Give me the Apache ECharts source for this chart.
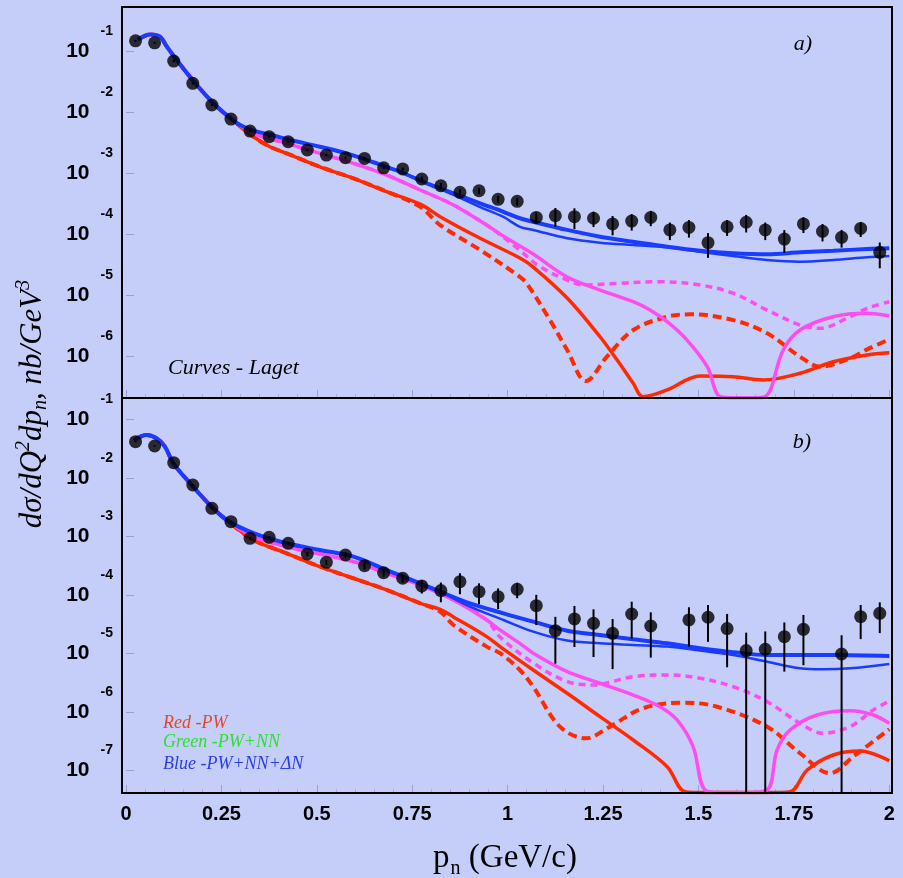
<!DOCTYPE html>
<html><head><meta charset="utf-8">
<script src="https://cdn.jsdelivr.net/npm/echarts@6/dist/echarts.min.js"></script>
<style>html,body{margin:0;padding:0;background:#c5cdf9;}#c{width:903px;height:878px;}</style>
</head><body><div id="c"></div>
<script>
// ---------- data: panel a ----------
const pA = [0.025,0.075,0.125,0.175,0.225,0.275,0.325,0.375,0.425,0.475,0.525,0.575,0.625,0.675,0.725,0.775,0.825,0.875,0.925,0.975,1.025,1.075,1.125,1.175,1.225,1.275,1.325,1.375,1.425,1.475,1.525,1.575,1.625,1.675,1.725,1.775,1.825,1.875,1.925,1.975];
const yA = [0.150,0.139,0.0698,0.0301,0.0133,0.00781,0.00497,0.00401,0.00332,0.00243,0.00201,0.00182,0.00177,0.00124,0.00119,8.13e-4,6.31e-4,4.92e-4,5.22e-4,3.78e-4,3.50e-4,1.91e-4,2.03e-4,1.96e-4,1.85e-4,1.49e-4,1.66e-4,1.91e-4,1.19e-4,1.31e-4,7.35e-5,1.34e-4,1.59e-4,1.19e-4,8.43e-5,1.49e-4,1.13e-4,9.0e-5,1.26e-4,5.10e-5];
const eA = [0.005,0.005,0.003,0.0012,0.0005,0.0003,0.0002,0.00015,0.00012,9e-5,8e-5,7e-5,7e-5,6e-5,6e-5,8e-5,7e-5,6e-5,6e-5,5e-5,5e-5,4.0e-5,6.9e-5,7.3e-5,5.2e-5,5.2e-5,5.0e-5,5.4e-5,3.8e-5,4.2e-5,3.2e-5,3.9e-5,5.1e-5,3.8e-5,3.4e-5,4.3e-5,3.6e-5,2.9e-5,3.5e-5,2.3e-5];

const headA = [[0.032,0.158],[0.063,0.191],[0.089,0.175],[0.107,0.120],[0.133,0.0724],[0.181,0.0305],[0.231,0.0138],[0.273,0.00813]];
const blueMidA = [[0.299,0.00624],[0.334,0.00504],[0.382,0.00428],[0.430,0.00354],[0.508,0.00275],[0.578,0.00214],[0.648,0.00153],[0.718,0.00107],[0.788,6.90e-4]];
const blueThickTailA = [[0.858,4.73e-4],[0.928,3.24e-4],[0.989,2.36e-4],[1.032,1.85e-4],[1.067,1.62e-4],[1.156,1.19e-4],[1.242,9.20e-5],[1.329,7.62e-5],[1.418,6.31e-5],[1.504,5.42e-5],[1.591,4.92e-5],[1.680,4.73e-5],[1.766,5.10e-5],[1.853,5.42e-5],[1.942,5.78e-5],[2.0,5.94e-5]];
const blueThinTailA = [[0.858,4.45e-4],[0.928,2.82e-4],[0.989,1.94e-4],[1.032,1.34e-4],[1.067,1.19e-4],[1.156,8.67e-5],[1.242,7.35e-5],[1.329,6.73e-5],[1.418,6.17e-5],[1.504,5.22e-5],[1.591,4.45e-5],[1.680,3.82e-5],[1.766,3.58e-5],[1.853,3.82e-5],[1.942,4.23e-5],[2.0,4.45e-5]];
const magMidA = [[0.334,0.00456],[0.421,0.00313],[0.508,0.00214],[0.596,0.00147],[0.683,9.44e-4],[0.771,5.37e-4],[0.858,3.05e-4],[0.945,1.43e-4]];
const magSolidTailA = [[0.980,1.02e-4],[1.032,6.47e-5],[1.067,4.79e-5],[1.156,2.01e-5],[1.242,1.23e-5],[1.329,7.91e-6],[1.373,5.78e-6],[1.418,3.72e-6],[1.470,1.86e-6],[1.523,6.81e-7],[1.557,2.2e-7],[1.60,2.1e-7],[1.64,2.1e-7],[1.675,2.2e-7],[1.722,1.28e-6],[1.766,2.72e-6],[1.853,4.49e-6],[1.942,5.10e-6],[2.0,4.61e-6]];
const magDashTailA = [[0.980,1.0e-4],[1.032,5.5e-5],[1.085,2.96e-5],[1.156,1.79e-5],[1.198,1.49e-5],[1.287,1.58e-5],[1.399,1.68e-5],[1.504,1.49e-5],[1.591,1.09e-5],[1.680,5.78e-6],[1.766,3.28e-6],[1.819,2.90e-6],[1.897,4.49e-6],[1.942,6.17e-6],[2.0,7.91e-6]];
const redMidA = [[0.334,0.00401],[0.377,0.00275],[0.421,0.00214],[0.508,0.00129],[0.596,8.34e-4],[0.683,5.04e-4]];
const redSolidTailA = [[0.771,3.15e-4],[0.823,1.96e-4],[0.928,8.67e-5],[1.032,4.12e-5],[1.067,2.93e-5],[1.156,9.09e-6],[1.242,2.11e-6],[1.287,8.77e-7],[1.329,3.64e-7],[1.355,2.19e-7],[1.418,2.83e-7],[1.504,4.79e-7],[1.591,4.67e-7],[1.669,4.12e-7],[1.766,5.31e-7],[1.853,8.22e-7],[1.942,1.06e-6],[2.0,1.15e-6]];
const redDashTailA = [[0.771,2.85e-4],[0.823,1.43e-4],[0.928,5.57e-5],[1.032,2.03e-5],[1.051,1.55e-5],[1.111,3.96e-6],[1.156,1.28e-6],[1.205,3.96e-7],[1.260,9.93e-7],[1.329,2.72e-6],[1.418,4.49e-6],[1.478,4.92e-6],[1.591,3.96e-6],[1.680,2.40e-6],[1.766,9.93e-7],[1.819,6.81e-7],[1.897,9.33e-7],[1.942,1.31e-6],[2.0,1.91e-6]];

// ---------- data: panel b ----------
const pB = [0.025,0.075,0.125,0.175,0.225,0.275,0.325,0.375,0.425,0.475,0.525,0.575,0.625,0.675,0.725,0.775,0.825,0.875,0.925,0.975,1.025,1.075,1.125,1.175,1.225,1.275,1.325,1.375,1.475,1.525,1.575,1.625,1.675,1.725,1.775,1.875,1.925,1.975];
const yB = [0.0418,0.0352,0.0183,0.00759,0.00303,0.00179,9.31e-4,9.68e-4,7.65e-4,5.02e-4,3.62e-4,4.83e-4,3.17e-4,2.41e-4,1.93e-4,1.43e-4,1.19e-4,1.69e-4,1.14e-4,9.35e-5,1.25e-4,6.56e-5,2.45e-5,3.89e-5,3.28e-5,2.21e-5,4.73e-5,2.95e-5,3.74e-5,4.16e-5,2.66e-5,1.12e-5,1.18e-5,1.94e-5,2.59e-5,9.8e-6,4.25e-5,4.86e-5];
const eB = [0.001,0.001,0.0006,0.0003,0.0001,6e-5,4e-5,4e-5,4e-5,4e-5,3.5e-5,6e-5,4.5e-5,3.5e-5,3e-5,3.7e-5,4.4e-5,6.6e-5,4.4e-5,3.6e-5,3.7e-5,3.5e-5,1.78e-5,2.6e-5,2.41e-5,1.67e-5,2.94e-5,2.1e-5,2.43e-5,2.58e-5,2.08e-5,1.15e-5,1.2e-5,1.45e-5,1.96e-5,1.07e-5,2.49e-5,2.63e-5];

const headB = [[0.021,0.0447],[0.054,0.0543],[0.080,0.0477],[0.102,0.0343],[0.124,0.0178],[0.172,0.00759],[0.220,0.00345],[0.264,0.00191]];
const blueMidB = [[0.334,0.00114],[0.421,7.66e-4],[0.508,5.88e-4],[0.596,4.52e-4],[0.683,2.67e-4],[0.771,1.58e-4],[0.823,1.14e-4]];
const blueThickTailB = [[0.901,7.21e-5],[0.989,4.86e-5],[1.067,3.50e-5],[1.156,2.45e-5],[1.242,2.07e-5],[1.329,1.75e-5],[1.418,1.49e-5],[1.504,1.23e-5],[1.591,1.05e-5],[1.680,9.42e-6],[1.766,9.42e-6],[1.853,9.42e-6],[2.0,9.06e-6]];
const blueThinTailB = [[0.901,6.31e-5],[0.989,3.74e-5],[1.067,2.36e-5],[1.156,1.66e-5],[1.242,1.49e-5],[1.329,1.40e-5],[1.418,1.31e-5],[1.504,1.12e-5],[1.591,9.42e-6],[1.680,7.24e-6],[1.766,5.58e-6],[1.826,5.37e-6],[1.897,5.58e-6],[2.0,6.62e-6]];
const magMidB = [[0.334,9.93e-4],[0.421,6.70e-4],[0.508,5.02e-4],[0.596,3.71e-4],[0.683,2.35e-4],[0.771,1.48e-4],[0.858,8.22e-5],[0.945,3.74e-5]];
const magSolidTailB = [[0.980,2.52e-5],[1.032,1.49e-5],[1.067,1.01e-5],[1.156,4.89e-6],[1.242,3.10e-6],[1.329,1.95e-6],[1.399,1.23e-6],[1.444,7.30e-7],[1.486,2.55e-7],[1.517,4.65e-8],[1.56,4.2e-8],[1.62,4.2e-8],[1.680,4.65e-8],[1.706,2.24e-7],[1.740,4.92e-7],[1.811,8.89e-7],[1.897,1.05e-6],[1.958,8.89e-7],[2.0,6.41e-7]];
const magDashTailB = [[0.980,1.91e-5],[1.067,6.89e-6],[1.156,3.30e-6],[1.224,2.90e-6],[1.329,4.01e-6],[1.418,4.29e-6],[1.504,3.77e-6],[1.591,2.70e-6],[1.680,1.50e-6],[1.766,6.41e-7],[1.826,4.33e-7],[1.897,5.61e-7],[1.958,1.08e-6],[2.0,1.54e-6]];
const redMidB = [[0.334,8.71e-4],[0.421,5.16e-4],[0.508,3.05e-4],[0.596,1.93e-4],[0.683,1.22e-4],[0.771,7.21e-5]];
const redSolidTailB = [[0.823,5.7e-5],[0.858,4.21e-5],[0.945,1.94e-5],[0.980,1.31e-5],[1.067,5.22e-6],[1.156,2.09e-6],[1.242,8.32e-7],[1.329,3.32e-7],[1.418,1.16e-7],[1.465,4.35e-8],[1.52,4.2e-8],[1.60,4.2e-8],[1.68,4.2e-8],[1.740,4.35e-8],[1.785,1.02e-7],[1.853,1.84e-7],[1.924,2.15e-7],[2.0,1.47e-7]];
const redDashTailB = [[0.823,5.2e-5],[0.858,3.07e-5],[0.945,1.31e-5],[0.980,1.01e-5],[1.032,5.22e-6],[1.067,2.70e-6],[1.137,5.61e-7],[1.205,3.55e-7],[1.268,5.61e-7],[1.355,1.16e-6],[1.460,1.44e-6],[1.549,1.23e-6],[1.680,5.61e-7],[1.766,1.97e-7],[1.845,8.95e-8],[1.905,1.72e-7],[2.0,5.06e-7]];

// axis ranges
const yMinA = 2.09e-7, yMaxA = 0.537;
const yMinB = 4.12e-8, yMaxB = 0.224;
const xTicks = ['0','0.25','0.5','0.75','1','1.25','1.5','1.75','2'];

// ---------- build ----------
const RED = '#ff2a00', MAG = '#ff4cf0', BLUE = '#1a3cff';
const chart = echarts.init(document.getElementById('c'));

function lineS(gi, data, color, w, type, z) {
  return {type:'line', xAxisIndex:gi, yAxisIndex:gi, data:data, showSymbol:false, symbol:'none',
    smooth:0.35, animation:false, z:z, lineStyle:{color:color, width:w, type:type}, emphasis:{disabled:true}};
}
function errS(gi, xs, ys, es, ymin) {
  return {type:'custom', xAxisIndex:gi, yAxisIndex:gi, animation:false, z:5,
    data: xs.map((p,i)=>[p, ys[i], es[i]]),
    renderItem: function(params, api){
      const x = api.value(0), v = api.value(1), e = api.value(2);
      const lo = Math.max(v - e, ymin);
      const a = api.coord([x, v + e]), b = api.coord([x, lo]);
      return {type:'line', shape:{x1:a[0], y1:a[1], x2:b[0], y2:b[1]}, style:{stroke:'#000', lineWidth:2}};
    }};
}
function ptS(gi, xs, ys) {
  return {type:'scatter', xAxisIndex:gi, yAxisIndex:gi, animation:false, z:6, symbol:'circle', symbolSize:13,
    itemStyle:{color:'#000'}, data: xs.map((p,i)=>[p, ys[i]])};
}
function yLab(v) {
  const e = Math.log10(v), r = Math.round(e);
  if (Math.abs(e - r) > 1e-6) return '';
  return '{b|10}{e|' + r + '}';
}
const labRich = {
  b:{fontSize:21, fontWeight:'bold', fontFamily:'Liberation Sans', color:'#000', lineHeight:22, verticalAlign:'middle'},
  e:{fontSize:14, fontWeight:'bold', fontFamily:'Liberation Sans', color:'#000', lineHeight:14, padding:[0,0,40,11], verticalAlign:'middle'}
};
function yAx(gi, min, max) {
  return {type:'log', logBase:10, gridIndex:gi, min:min, max:max, offset:4,
    axisLine:{show:false}, splitLine:{show:false},
    axisTick:{show:true, inside:true, length:8, lineStyle:{color:'#98a0d6', width:1}},
    axisLabel:{margin:9, formatter:yLab, rich:labRich, showMinLabel:false, showMaxLabel:false}};
}
function xAx(gi, showLab) {
  return {type:'value', gridIndex:gi, min:0, max:2, interval:0.25,
    axisLine:{show:false}, splitLine:{show:false},
    axisTick:{show:true, inside:true, length:8, lineStyle:{color:'#98a0d6'}},
    minorTick:{show:true, splitNumber:5, length:4, lineStyle:{color:'#a8b0de'}},
    axisLabel:{show:showLab, margin:11, fontSize:20, fontWeight:'bold', fontFamily:'Liberation Sans', color:'#000',
      formatter:(v)=>{ const i = Math.round(v/0.25); return xTicks[i] !== undefined ? xTicks[i] : ''; }}};
}

const txt = (x, y, text, size, color, align) => ({type:'text', x:x, y:y, z:200, silent:true,
  style:{text:text, fill:color, font:'italic ' + size + 'px "Liberation Serif"', align:align, verticalAlign:'middle',
    textAlign:align, textVerticalAlign:'middle'}});

const option = {
  backgroundColor:'#c5cdf9',
  animation:false,
  grid:[
    {left:126, top:7, width:763.3, height:391, containLabel:false, outerBoundsMode:'none'},
    {left:126, top:399, width:763.3, height:394, containLabel:false, outerBoundsMode:'none'}
  ],
  xAxis:[xAx(0,false), xAx(1,true)],
  yAxis:[yAx(0,yMinA,yMaxA), yAx(1,yMinB,yMaxB)],
  series:[
    lineS(0, headA.concat(redMidA, redSolidTailA), RED, 3.5, 'solid', 2),
    lineS(0, headA.concat(redMidA, redDashTailA), RED, 4, [9,5], 2),
    lineS(0, headA.concat(magMidA, magSolidTailA), MAG, 3.5, 'solid', 3),
    lineS(0, headA.concat(magMidA, magDashTailA), MAG, 3.5, [7,5], 3),
    lineS(0, headA.concat(blueMidA, blueThinTailA), BLUE, 2.5, 'solid', 4),
    lineS(0, headA.concat(blueMidA, blueThickTailA), BLUE, 4, 'solid', 4),
    errS(0, pA, yA, eA, yMinA),
    ptS(0, pA, yA),
    lineS(1, headB.concat(redMidB, redSolidTailB), RED, 3.5, 'solid', 2),
    lineS(1, headB.concat(redMidB, redDashTailB), RED, 4, [9,5], 2),
    lineS(1, headB.concat(magMidB, magSolidTailB), MAG, 3.5, 'solid', 3),
    lineS(1, headB.concat(magMidB, magDashTailB), MAG, 3.5, [7,5], 3),
    lineS(1, headB.concat(blueMidB, blueThinTailB), BLUE, 2.5, 'solid', 4),
    lineS(1, headB.concat(blueMidB, blueThickTailB), BLUE, 4, 'solid', 4),
    errS(1, pB, yB, eB, yMinB),
    ptS(1, pB, yB)
  ],
  graphic:[
    {type:'rect', z:150, silent:true, shape:{x:122, y:7, width:770, height:391}, style:{fill:null, stroke:'#000', lineWidth:2}},
    {type:'rect', z:150, silent:true, shape:{x:122, y:398, width:770, height:395}, style:{fill:null, stroke:'#000', lineWidth:2}},
    txt(803, 44, 'a)', 22, '#000', 'center'),
    txt(802, 442, 'b)', 22, '#000', 'center'),
    txt(168, 368, 'Curves - Laget', 22, '#000', 'left'),
    txt(163, 723, 'Red -PW', 18, '#e8452c', 'left'),
    txt(163, 742, 'Green -PW+NN', 18, '#2ee02e', 'left'),
    txt(163, 764, 'Blue -PW+NN+\u0394N', 18, '#2a40e6', 'left'),
    {type:'text', x:33, y:404, rotation:Math.PI/2, z:200, silent:true,
      style:{text:'{i|d\u03c3/dQ}{sup|2}{i|dp}{sub|n}{i|, nb/GeV}{sup|3}', align:'center', verticalAlign:'middle',
        textAlign:'center', textVerticalAlign:'middle', fill:'#000',
        rich:{
          i:{fontSize:31, fontStyle:'italic', fontFamily:'Liberation Serif', fill:'#000', lineHeight:34, verticalAlign:'middle'},
          sup:{fontSize:20, fontStyle:'italic', fontFamily:'Liberation Serif', fill:'#000', lineHeight:20, padding:[0,0,18,0], verticalAlign:'middle'},
          sub:{fontSize:20, fontStyle:'italic', fontFamily:'Liberation Serif', fill:'#000', lineHeight:20, padding:[16,0,0,0], verticalAlign:'middle'}
        }}},
    {type:'text', x:505, y:858, z:200, silent:true,
      style:{text:'{a|p}{s|n}{a| (GeV/c)}', align:'center', verticalAlign:'middle', textAlign:'center', textVerticalAlign:'middle', fill:'#000',
        rich:{
          a:{fontSize:33, fontFamily:'Liberation Serif', fill:'#000', lineHeight:36, verticalAlign:'middle'},
          s:{fontSize:20, fontFamily:'Liberation Serif', fill:'#000', lineHeight:20, padding:[22,0,0,1], verticalAlign:'middle'}
        }}}
  ]
};
chart.setOption(option);
</script>
</body></html>
